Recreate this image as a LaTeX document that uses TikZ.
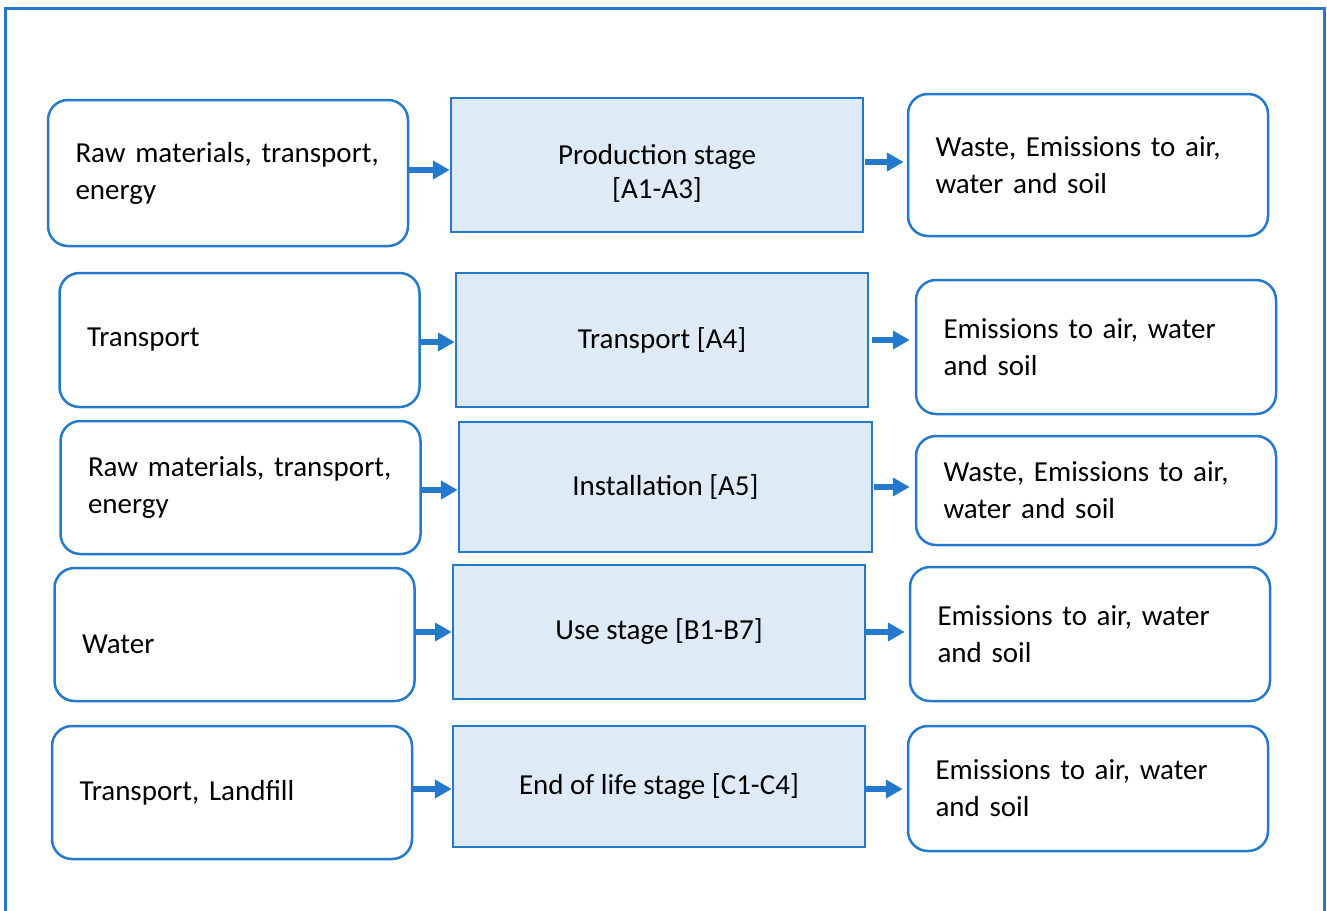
\documentclass[tikz,border=0pt]{standalone}
\usepackage{fontspec}
\setmainfont{Carlito}
\usetikzlibrary{arrows.meta}
\definecolor{bl}{RGB}{36,121,204}
\definecolor{fillc}{RGB}{222,235,247}
\newcommand\fs{\fontsize{29}{37}\selectfont}
\tikzset{
  side/.style={draw=bl, line width=2.5pt, rounded corners=20pt, align=left,
    inner xsep=27.5pt, inner ysep=0pt, text width=305pt, font=\fs},
  mid/.style={draw=bl, fill=fillc, line width=2.5pt, align=center, inner sep=0pt, font=\fs},
  arr/.style={draw=bl, line width=6pt, -{Triangle[length=17pt,width=18pt]}},
}
\begin{document}
\begin{tikzpicture}[x=1pt,y=-1pt]
\useasboundingbox (0,0) rectangle (1327,910);
\draw[bl, line width=3pt] (5,915) -- (5,8) -- (1324,8) -- (1324,915);
% row 1
\node[side, minimum width=360pt, minimum height=146pt] (l1) at (228,173) {\mbox{Raw materials, transport,}\\energy};
\node[mid, minimum width=412pt, minimum height=134pt, font=\fontsize{29}{34}\selectfont] (m1) at (657,165) {\rule{0pt}{36pt}Production stage\\{[}A1-A3]};
\node[side, minimum width=360pt, minimum height=142pt] (r1) at (1088,165) {\mbox{Waste, Emissions to air,}\\water and soil};
% row 2
\node[side, minimum width=359pt, minimum height=134pt] (l2) at (239.5,340) {Transport};
\node[mid, minimum width=412pt, minimum height=134pt] (m2) at (662,340) {Transport [A4]};
\node[side, minimum width=360pt, minimum height=134pt] (r2) at (1096,347) {\mbox{Emissions to air, water}\\and soil};
% row 3
\node[side, minimum width=359pt, minimum height=133pt] (l3) at (240.5,487.5) {\mbox{Raw materials, transport,}\\energy};
\node[mid, minimum width=413pt, minimum height=130pt] (m3) at (665.5,487) {Installation [A5]};
\node[side, minimum width=360pt, minimum height=109pt] (r3) at (1096,490.5) {\mbox{Waste, Emissions to air,}\\water and soil};
% row 4
\node[side, minimum width=359pt, minimum height=133pt] (l4) at (234.5,634.5) {\rule{0pt}{39pt}Water};
\node[mid, minimum width=412pt, minimum height=134pt] (m4) at (659,632) {Use stage [B1-B7]};
\node[side, minimum width=360pt, minimum height=134pt] (r4) at (1090,634) {\mbox{Emissions to air, water}\\and soil};
% row 5
\node[side, minimum width=360pt, minimum height=133pt] (l5) at (232,792.5) {Transport, Landfill};
\node[mid, minimum width=412pt, minimum height=121pt] (m5) at (659,786.5) {End of life stage [C1-C4]};
\node[side, minimum width=360pt, minimum height=125pt] (r5) at (1088,788.5) {\mbox{Emissions to air, water}\\and soil};
% arrows
\draw[arr] (l1.east |- 0,170) -- (m1.west |- 0,170);
\draw[arr] ([xshift=1pt]m1.east |- 0,162) -- ([xshift=-3pt]r1.west |- 0,162);
\draw[arr] (l2.east |- 0,342) -- (m2.west |- 0,342);
\draw[arr] ([xshift=3pt]m2.east |- 0,340) -- ([xshift=-5pt]r2.west |- 0,340);
\draw[arr] (l3.east |- 0,490) -- (m3.west |- 0,490);
\draw[arr] ([xshift=1pt]m3.east |- 0,487) -- ([xshift=-5pt]r3.west |- 0,487);
\draw[arr] (l4.east |- 0,632) -- (m4.west |- 0,632);
\draw[arr] (m4.east |- 0,632) -- ([xshift=-4pt]r4.west |- 0,632);
\draw[arr] (l5.east |- 0,789) -- (m5.west |- 0,789);
\draw[arr] (m5.east |- 0,789) -- ([xshift=-4pt]r5.west |- 0,789);
\end{tikzpicture}
\end{document}
